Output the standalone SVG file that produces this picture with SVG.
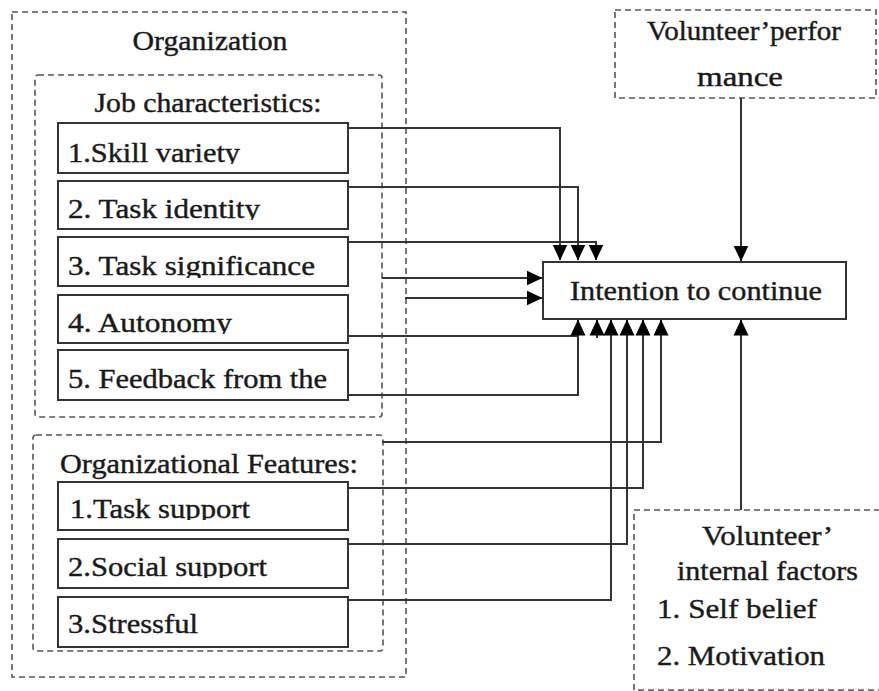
<svg xmlns="http://www.w3.org/2000/svg" width="879" height="691" viewBox="0 0 879 691">
<style>
.dash{fill:none;stroke:#555;stroke-width:1.6;stroke-dasharray:6,4}
.box{fill:#fff;stroke:#333;stroke-width:2}
.t{font-family:'Liberation Serif','Times New Roman',Times,serif;font-size:27px;fill:#1a1a1a;stroke:#1a1a1a;stroke-width:0.4}
.c{text-anchor:middle}
.ln{fill:none;stroke:#333;stroke-width:2}
</style>
<defs>
<marker id="ah" viewBox="0 0 16 16" refX="15.5" refY="8" markerWidth="16" markerHeight="16" markerUnits="userSpaceOnUse" orient="auto">
<path d="M0,0.5 L16,8 L0,15.5 Z" fill="#000"/>
</marker>
<clipPath id="c1" clipPathUnits="userSpaceOnUse"><rect x="58" y="123" width="290" height="41"/></clipPath>
<clipPath id="c2" clipPathUnits="userSpaceOnUse"><rect x="58" y="181" width="290" height="39"/></clipPath>
<clipPath id="c3" clipPathUnits="userSpaceOnUse"><rect x="58" y="237" width="290" height="41"/></clipPath>
<clipPath id="c4" clipPathUnits="userSpaceOnUse"><rect x="58" y="295" width="290" height="39"/></clipPath>
<clipPath id="c6" clipPathUnits="userSpaceOnUse"><rect x="58" y="482" width="290" height="38"/></clipPath>
<clipPath id="c7" clipPathUnits="userSpaceOnUse"><rect x="58" y="539" width="290" height="39"/></clipPath>
</defs>

<g id="organization">
<rect class="dash" x="12" y="12" width="394" height="665"/>
<text class="t c" x="210" y="50" textLength="155" lengthAdjust="spacingAndGlyphs">Organization</text>
</g>

<g id="job-characteristics">
<rect class="dash" x="35" y="75" width="347" height="342" rx="3"/>
<text class="t c" x="208" y="112" textLength="227" lengthAdjust="spacingAndGlyphs">Job characteristics:</text>
</g>

<g id="skill-variety">
<rect class="box" x="58" y="123" width="290" height="50"/>
<text class="t" x="68" y="162" clip-path="url(#c1)" textLength="172" lengthAdjust="spacingAndGlyphs">1.Skill variety</text>
</g>
<g id="task-identity">
<rect class="box" x="58" y="181" width="290" height="48"/>
<text class="t" x="68" y="218" clip-path="url(#c2)" textLength="192" lengthAdjust="spacingAndGlyphs">2. Task identity</text>
</g>
<g id="task-significance">
<rect class="box" x="58" y="237" width="290" height="49"/>
<text class="t" x="68" y="275" clip-path="url(#c3)" textLength="247" lengthAdjust="spacingAndGlyphs">3. Task significance</text>
</g>
<g id="autonomy">
<rect class="box" x="58" y="295" width="290" height="48"/>
<text class="t" x="68" y="332" clip-path="url(#c4)" textLength="164" lengthAdjust="spacingAndGlyphs">4. Autonomy</text>
</g>
<g id="feedback">
<rect class="box" x="58" y="350" width="290" height="50"/>
<text class="t" x="68" y="388" textLength="259" lengthAdjust="spacingAndGlyphs">5. Feedback from the</text>
</g>

<g id="organizational-features">
<rect class="dash" x="33" y="435" width="350" height="216" rx="3"/>
<text class="t" x="60" y="473" textLength="298" lengthAdjust="spacingAndGlyphs">Organizational Features:</text>
</g>
<g id="task-support">
<rect class="box" x="58" y="482" width="290" height="48"/>
<text class="t" x="70" y="518" clip-path="url(#c6)" textLength="180" lengthAdjust="spacingAndGlyphs">1.Task support</text>
</g>
<g id="social-support">
<rect class="box" x="58" y="539" width="290" height="49"/>
<text class="t" x="68" y="576" clip-path="url(#c7)" textLength="199" lengthAdjust="spacingAndGlyphs">2.Social support</text>
</g>
<g id="stressful">
<rect class="box" x="58" y="597" width="290" height="50"/>
<text class="t" x="68" y="633" textLength="130" lengthAdjust="spacingAndGlyphs">3.Stressful</text>
</g>

<g id="intention">
<rect class="box" x="543" y="262" width="303" height="57"/>
<text class="t c" x="696" y="300" textLength="252" lengthAdjust="spacingAndGlyphs">Intention to continue</text>
</g>

<g id="volunteer-performance">
<rect class="dash" x="615" y="10" width="261" height="88"/>
<text class="t c" x="744" y="40" textLength="194" lengthAdjust="spacingAndGlyphs">Volunteer’perfor</text>
<text class="t c" x="740" y="86" textLength="86" lengthAdjust="spacingAndGlyphs">mance</text>
</g>

<g id="volunteer-internal">
<rect class="dash" x="634" y="510" width="260" height="180"/>
<text class="t" x="702" y="545" textLength="131" lengthAdjust="spacingAndGlyphs">Volunteer’</text>
<text class="t" x="677" y="580" textLength="181" lengthAdjust="spacingAndGlyphs">internal factors</text>
<text class="t" x="657" y="618" textLength="160" lengthAdjust="spacingAndGlyphs">1.  Self belief</text>
<text class="t" x="657" y="665" textLength="168" lengthAdjust="spacingAndGlyphs">2.  Motivation</text>
</g>

<g id="connectors">
<path class="ln" d="M348,128 H560 V260" marker-end="url(#ah)"/>
<path class="ln" d="M348,187 H578 V260" marker-end="url(#ah)"/>
<path class="ln" d="M348,242 H596 V260" marker-end="url(#ah)"/>
<path class="ln" d="M382,278 H542" marker-end="url(#ah)"/>
<path class="ln" d="M405,298 H542" marker-end="url(#ah)"/>
<path class="ln" d="M348,336 H578"/>
<path class="ln" d="M348,395 H578 V320" marker-end="url(#ah)"/>
<path class="ln" d="M597,338 V320" marker-end="url(#ah)"/>
<path class="ln" d="M348,600 H611 V320" marker-end="url(#ah)"/>
<path class="ln" d="M348,544 H627 V320" marker-end="url(#ah)"/>
<path class="ln" d="M348,488 H643 V320" marker-end="url(#ah)"/>
<path class="ln" d="M382,442 H661 V320" marker-end="url(#ah)"/>
<path class="ln" d="M741,98 V261" marker-end="url(#ah)"/>
<path class="ln" d="M741,510 V320" marker-end="url(#ah)"/>
</g>
</svg>
